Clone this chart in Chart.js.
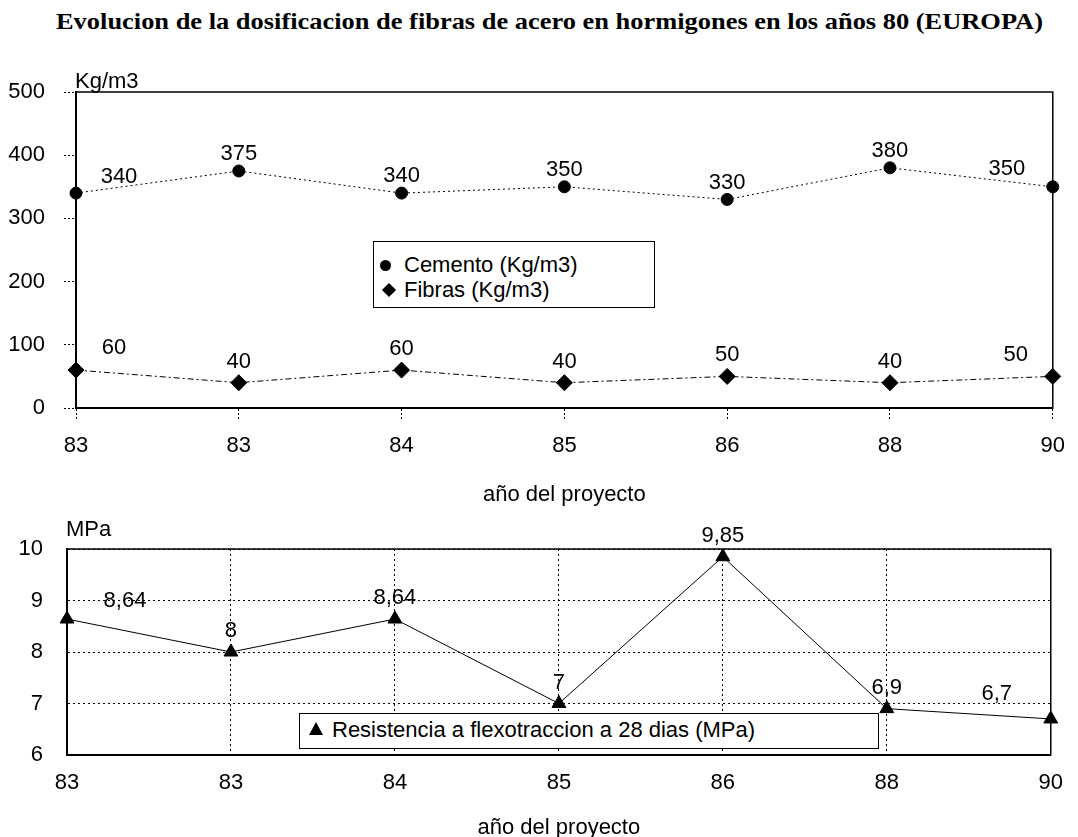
<!DOCTYPE html>
<html lang="es">
<head>
    <meta charset="UTF-8">
    <title>Evolucion de la dosificacion de fibras de acero</title>
    <script src="https://cdn.jsdelivr.net/npm/chart.js"></script>
    <style>
        body {
            margin: 0;
            width: 1078px;
            height: 837px;
            overflow: hidden;
            position: relative;
            background: #fff;
            color: #000;
            font-family: "Liberation Sans", Arial, sans-serif;
        }
        #title {
            position: absolute;
            left: 56px;
            top: 8px;
            line-height: 28px;
            white-space: nowrap;
            font-family: "Liberation Serif", "Times New Roman", serif;
            font-weight: bold;
            font-size: 23px;
            transform-origin: 0 0;
        }
        .wrap { position: absolute; left: 0; }
        .legend {
            position: absolute;
            box-sizing: border-box;
            border: 1.5px solid #000;
            background: #fff;
            font-size: 22px;
        }
        .row { position: absolute; left: 0; height: 26px; line-height: 26px; white-space: nowrap; }
        .row span.t { position: absolute; top: 0; }
        .mk { position: absolute; background: #000; }
        .dot { width: 11px; height: 11px; border-radius: 50%; }
        .dia { width: 10px; height: 10px; transform: rotate(45deg); }
        .tri { width: 0; height: 0; background: none;
               border-left: 7px solid transparent; border-right: 7px solid transparent;
               border-bottom: 13px solid #000; }
    </style>
</head>
<body>
    <div id="title">Evolucion de la dosificacion de fibras de acero en hormigones en los años 80 (EUROPA)</div>

    <div class="wrap" style="top:0;"><canvas id="topChart" width="1078" height="515"></canvas></div>
    <div class="wrap" style="top:470px;"><canvas id="bottomChart" width="1078" height="380"></canvas></div>

    <div class="legend" style="left:373px; top:241px; width:282px; height:67px;">
        <div class="row" style="top:10px;"><div class="mk dot" style="left:6px; top:8px;"></div><span class="t" style="left:30px;">Cemento (Kg/m3)</span></div>
        <div class="row" style="top:35px;"><div class="mk dia" style="left:10px; top:8px;"></div><span class="t" style="left:30px;">Fibras (Kg/m3)</span></div>
    </div>
    <div class="legend" style="left:299px; top:713px; width:580px; height:36px;">
        <div class="row" style="top:3px;"><div class="mk tri" style="left:9px; top:5px;"></div><span class="t" style="left:32px;">Resistencia a flexotraccion a 28 dias (MPa)</span></div>
    </div>

    <script>
        // valores
        const years = ['83', '83', '84', '85', '86', '88', '90'];
        const cemento = [340, 375, 340, 350, 330, 380, 350];
        const fibras = [60, 40, 60, 40, 50, 40, 50];
        const resistencia = [8.64, 8, 8.64, 7, 9.85, 6.9, 6.7];

        Chart.defaults.font.family = '"Liberation Sans", Arial, sans-serif';
        Chart.defaults.font.size = 22;
        Chart.defaults.color = '#000';

        // stretch the title to the width it has in the picture
        const title = document.getElementById('title');
        title.style.transform = 'scaleX(' + (987 / title.getBoundingClientRect().width) + ')';

        const comma = v => String(v).replace('.', ',');

        // value labels next to each point
        const pointLabels = {
            id: 'pointLabels',
            afterDatasetsDraw(chart) {
                const ctx = chart.ctx;
                ctx.save();
                ctx.font = '22px "Liberation Sans", Arial, sans-serif';
                ctx.fillStyle = '#000';
                ctx.textAlign = 'center';
                ctx.textBaseline = 'middle';
                chart.data.datasets.forEach((ds, i) => {
                    const pts = chart.getDatasetMeta(i).data;
                    const s = ds.labelShift;
                    pts.forEach((p, j) => {
                        let d = s.other;
                        if (j === 0) d = s.first;
                        if (j === pts.length - 1) d = s.last;
                        ctx.fillText(comma(ds.data[j]), p.x + d[0], p.y + d[1]);
                    });
                });
                ctx.restore();
            }
        };

        // frame round the plot area and the unit text above it
        const frame = {
            id: 'frame',
            beforeDatasetsDraw(chart, args, opts) {
                const a = chart.chartArea;
                const ctx = chart.ctx;
                ctx.save();
                ctx.strokeStyle = '#000';
                ctx.lineWidth = 1.5;
                ctx.strokeRect(a.left, a.top, a.right - a.left, a.bottom - a.top);
                ctx.font = '22px "Liberation Sans", Arial, sans-serif';
                ctx.fillStyle = '#000';
                ctx.textAlign = 'left';
                ctx.textBaseline = 'middle';
                ctx.fillText(opts.unit, a.left - 1, a.top - opts.unitGap);
                ctx.restore();
            }
        };

        new Chart(document.getElementById('topChart'), {
            type: 'line',
            data: {
                labels: years,
                datasets: [{
                    label: 'Cemento (Kg/m3)',
                    data: cemento,
                    borderColor: '#000',
                    borderWidth: 1,
                    borderDash: [2, 3],
                    pointStyle: 'circle',
                    pointRadius: 6,
                    pointBackgroundColor: '#000',
                    pointBorderColor: '#000',
                    tension: 0,
                    labelShift: { first: [43, -16], other: [0, -17], last: [-46, -18] }
                }, {
                    label: 'Fibras (Kg/m3)',
                    data: fibras,
                    borderColor: '#000',
                    borderWidth: 1,
                    borderDash: [6, 3, 2, 3],
                    pointStyle: 'rectRot',
                    pointRadius: 8,
                    pointBackgroundColor: '#000',
                    pointBorderColor: '#000',
                    tension: 0,
                    labelShift: { first: [38, -22], other: [0, -21], last: [-37, -21] }
                }]
            },
            options: {
                responsive: false,
                animation: false,
                layout: { padding: { top: 92, right: 12, left: 0, bottom: 0 } },
                plugins: {
                    legend: { display: false },
                    tooltip: { enabled: false },
                    frame: { unit: 'Kg/m3', unitGap: 10 }
                },
                scales: {
                    x: {
                        grid: { drawOnChartArea: false, tickLength: 12, tickColor: '#000', tickBorderDash: [2, 2] },
                        border: { color: '#000', width: 2 },
                        ticks: { padding: 13, maxRotation: 0, autoSkip: false },
                        title: { display: true, text: 'año del proyecto', padding: { top: 0, bottom: 7 } },
                        afterFit: s => { s.height = 107; }
                    },
                    y: {
                        min: 0,
                        max: 500,
                        ticks: { stepSize: 100, padding: 19 },
                        grid: { drawOnChartArea: false, tickLength: 12, tickColor: '#000', tickBorderDash: [2, 2] },
                        border: { color: '#000', width: 2 },
                        afterFit: s => { s.width = 76; }
                    }
                }
            },
            plugins: [frame, pointLabels]
        });

        new Chart(document.getElementById('bottomChart'), {
            type: 'line',
            data: {
                labels: years,
                datasets: [{
                    label: 'Resistencia a flexotraccion a 28 dias (MPa)',
                    data: resistencia,
                    borderColor: '#000',
                    borderWidth: 1,
                    pointStyle: 'triangle',
                    pointRadius: 8,
                    pointBackgroundColor: '#000',
                    pointBorderColor: '#000',
                    tension: 0,
                    labelShift: { first: [58, -18], other: [0, -21], last: [-54, -25] }
                }]
            },
            options: {
                responsive: false,
                animation: false,
                layout: { padding: { top: 79, right: 11, left: 0, bottom: 0 } },
                plugins: {
                    legend: { display: false },
                    tooltip: { enabled: false },
                    frame: { unit: 'MPa', unitGap: 19 }
                },
                scales: {
                    x: {
                        grid: { color: '#000', lineWidth: 1, drawTicks: false },
                        border: { color: '#000', width: 2, dash: [2, 3] },
                        ticks: { padding: 15, maxRotation: 0, autoSkip: false },
                        title: { display: true, text: 'año del proyecto', padding: { top: 0, bottom: 9 } },
                        afterFit: s => { s.height = 95; }
                    },
                    y: {
                        min: 6,
                        max: 10,
                        ticks: { stepSize: 1, padding: 24 },
                        grid: { color: '#000', lineWidth: 1, drawTicks: false },
                        border: { color: '#000', width: 2, dash: [2, 3] },
                        afterFit: s => { s.width = 67; }
                    }
                }
            },
            plugins: [frame, pointLabels]
        });
    </script>
</body>
</html>
